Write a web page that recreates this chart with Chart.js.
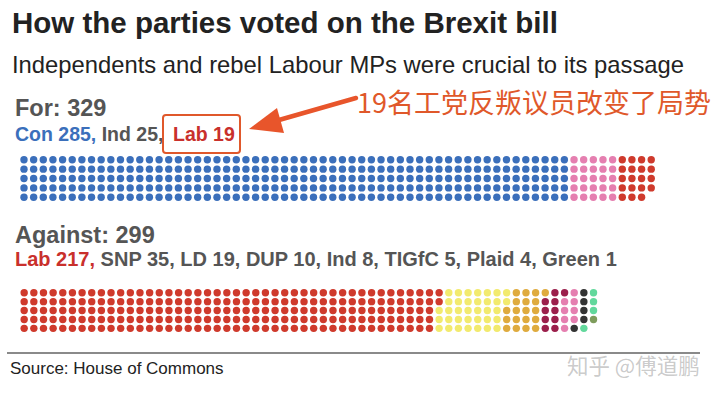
<!DOCTYPE html>
<html>
<head>
<meta charset="utf-8">
<script src="https://cdn.jsdelivr.net/npm/chart.js@4/dist/chart.umd.min.js"></script>
<style>
  html, body { margin: 0; padding: 0; background: #fff; }
  body { width: 720px; height: 396px; position: relative; overflow: hidden; font-family: "Liberation Sans", Arial, sans-serif; }
  .t { position: absolute; white-space: nowrap; line-height: 1; }
  canvas { position: absolute; left: 0; }
</style>
</head>
<body>
<div class="t" style="left:12px; top:8px; font-size:29.5px; font-weight:bold; color:#222;">How the parties voted on the Brexit bill</div>
<div class="t" style="left:12px; top:53px; font-size:23.8px; color:#222;">Independents and rebel Labour MPs were crucial to its passage</div>

<div class="t" style="left:15px; top:97px; font-size:23.5px; font-weight:bold; color:#555;">For: 329</div>
<div class="t" id="forLine" style="left:15px; top:125px; font-size:19.5px; font-weight:bold; color:#555;"></div>
<div style="position:absolute; left:162px; top:114px; width:75px; height:36px; border:2.5px solid #e0582b; border-radius:4px;"></div>

<svg style="position:absolute; left:0; top:0;" width="720" height="396">
  <line x1="356" y1="98" x2="272" y2="122" stroke="#e8552b" stroke-width="4.5" stroke-linecap="round"/>
  <polygon points="249,129 277,108 284,133" fill="#e8552b"/>
</svg>
<div class="t" style="left:357px; top:88px; font-size:27px; font-family:'Noto Sans CJK SC', sans-serif; color:#e0582a;">19名工党反叛议员改变了局势</div>

<canvas id="forChart" width="720" height="56" style="top:150px;"></canvas>

<div class="t" style="left:15px; top:224px; font-size:23.5px; font-weight:bold; color:#555;">Against: 299</div>
<div class="t" id="againstLine" style="left:15px; top:249px; font-size:20px; font-weight:bold; color:#555;"></div>

<canvas id="againstChart" width="720" height="56" style="top:283px;"></canvas>

<div style="position:absolute; left:7px; top:352px; width:693px; height:2px; background:#8a8a8a;"></div>
<div class="t" style="left:10px; top:360px; font-size:17px; color:#222;">Source: House of Commons</div>
<div class="t" style="left:567px; top:354px; font-size:21.5px; font-family:'Noto Sans CJK SC', sans-serif; color:rgba(120,120,120,0.4);">知乎 @傅道鹏</div>

<script>
// 찬성 (For)
const forParties = ['Con', 'Ind', 'Lab'];
const forCounts = [285, 25, 19];
const forColors = ['#3b6fbb', '#e57fb0', '#cf3a2c'];

// 반대 (Against)
const againstParties = ['Lab', 'SNP', 'LD', 'DUP', 'Ind', 'TIGfC', 'Plaid', 'Green'];
const againstCounts = [217, 35, 19, 10, 8, 5, 4, 1];
const againstColors = ['#cf3a2c', '#f2ea6e', '#dfab3e', '#9b1f4b', '#e57fb0', '#333333', '#62d89c', '#7e9c5c'];

const ROWS = 5;

// 라벨 줄 (첫 정당만 색상)
function fillLabel(id, parties, counts, firstColor) {
    const el = document.getElementById(id);
    parties.forEach((p, i) => {
        const s = document.createElement('span');
        s.textContent = p + ' ' + counts[i] + (i < parties.length - 1 ? ', ' : '');
        if (i === 0) s.style.color = firstColor;
        if (id === 'forLine' && i === 2) {
            s.style.color = '#c9302c';
            s.style.position = 'absolute';
            s.style.left = '158px';
        }
        el.appendChild(s);
    });
}
fillLabel('forLine', forParties, forCounts, '#3b6fbb');
fillLabel('againstLine', againstParties, againstCounts, '#c9302c');

// 점은 열 단위로 위에서 아래로 채움
function buildDatasets(parties, counts, colors) {
    let idx = 0;
    return parties.map((p, k) => {
        const pts = [];
        for (let n = 0; n < counts[k]; n++) {
            pts.push({ x: Math.floor(idx / ROWS), y: idx % ROWS });
            idx++;
        }
        return {
            label: p,
            data: pts,
            backgroundColor: colors[k],
            borderWidth: 0,
            pointRadius: 3.7,
            pointHoverRadius: 3.7
        };
    });
}

function drawChart(id, parties, counts, colors, x0, dx, y0, dy, h) {
    const ctx = document.getElementById(id).getContext('2d');
    const xmin = -x0 / dx;
    const ymin = -y0 / dy;
    return new Chart(ctx, {
        type: 'scatter',
        data: { datasets: buildDatasets(parties, counts, colors) },
        options: {
            responsive: false,
            animation: false,
            events: [],
            layout: { padding: 0 },
            plugins: { legend: { display: false }, tooltip: { enabled: false } },
            scales: {
                x: { type: 'linear', display: false, min: xmin, max: xmin + 720 / dx },
                y: { type: 'linear', display: false, reverse: true, min: ymin, max: ymin + h / dy }
            }
        }
    });
}

drawChart('forChart', forParties, forCounts, forColors, 20.5, 9.75, 7, 10.8, 56);
drawChart('againstChart', againstParties, againstCounts, againstColors, 20.7, 9.75, 7, 10.25, 56);
</script>
</body>
</html>
